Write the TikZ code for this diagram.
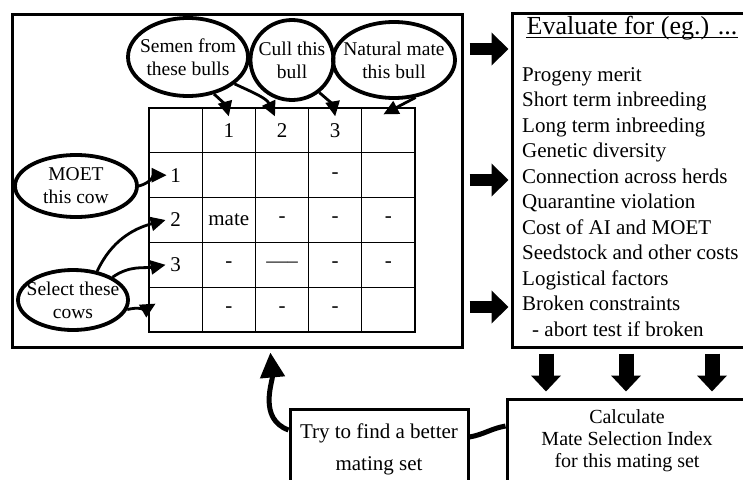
\documentclass[tikz,border=0pt]{standalone}
\usepackage{fontspec}
\setmainfont{Liberation Serif}
\usetikzlibrary{arrows.meta,shapes.geometric,positioning}

\tikzset{
  frame/.style={draw,line width=3pt,inner sep=0pt},
  bubble/.style={draw,ellipse,line width=3.8pt,inner xsep=-15pt,inner ysep=-10pt,
    align=center,font=\fontsize{19.5}{23}\selectfont},
  cell/.style={draw,line width=1.3pt,minimum width=53.2pt,minimum height=44.8pt,
    inner sep=0pt,font=\fontsize{21}{25}\selectfont},
  pointer/.style={line width=2.8pt,-{Triangle[length=15pt,width=14pt]}},
  fatright/.style={line width=12pt,-{Triangle[length=17pt,width=32pt]}},
  fatdown/.style={line width=15pt,-{Triangle[length=16pt,width=29pt]}},
  backarrow/.style={line width=5pt,-{Triangle[length=25pt,width=24pt]}},
  listline/.style={anchor=base west,inner sep=0pt,font=\fontsize{21}{25}\selectfont},
}

\begin{document}
\begin{tikzpicture}[x=1pt,y=1pt]
  \useasboundingbox (0,0) rectangle (743,-479);
  % the mating set
  \node[frame,minimum width=450pt,minimum height=333pt] (board) at (237,-180.5) {};
  \foreach \r/\a/\b/\c/\d/\e in {0/{}/1/2/3/{}, 1/1/{}/{}/-/{}, 2/2/mate/-/-/-,
      3/3/-/-----/-/-, 4/{}/-/-/-/{}} {
    \node[cell] (c\r-1) at (175.6,-130.4-44.8*\r) {\a};
    \node[cell] (c\r-2) at (228.8,-130.4-44.8*\r) {\b};
    \node[cell] (c\r-3) at (282.0,-130.4-44.8*\r) {\c};
    \node[cell] (c\r-4) at (335.2,-130.4-44.8*\r) {\d};
    \node[cell] (c\r-5) at (388.4,-130.4-44.8*\r) {\e};
  }
  % bulls and cows
  \node[bubble,minimum width=120pt,minimum height=78pt] (semen) at (188,-57) {Semen from\\these bulls};
  \node[bubble,minimum width=83pt,minimum height=80pt] (cull) at (292,-60) {Cull this\\bull};
  \node[bubble,minimum width=122pt,minimum height=76pt] (natural) at (394,-60) {Natural mate\\this bull};
  \node[bubble,minimum width=122pt,minimum height=62pt] (moet) at (76,-186) {MOET\\this cow};
  \node[bubble,minimum width=110pt,minimum height=60pt] (select) at (73,-300) {Select these\\cows};
  \draw[pointer] (semen.-55) to[out=-40,in=105] ([yshift=-9pt]c0-2.north);
  \draw[pointer] (semen.-30) to[out=-25,in=115] ([xshift=-7pt,yshift=-9pt]c0-3.north);
  \draw[pointer] (cull.-50) to[out=-40,in=100] ([yshift=-9pt]c0-4.north);
  \draw[pointer] (natural.-60) -- ([xshift=-5pt,yshift=-7pt]c0-5.north);
  \draw[pointer] (moet.east) to[out=15,in=180] ([xshift=-9pt]c1-1.center);
  \draw[pointer] (select.50) to[out=65,in=195] ([xshift=-10pt]c2-1.center);
  \draw[pointer] (select.30) to[out=35,in=190] ([xshift=-10pt]c3-1.center);
  \draw[pointer] (select.-10) to[out=15,in=210] ([xshift=-20pt,yshift=6pt]c4-1.center);
  % what is evaluated
  \node[frame,minimum width=238pt,minimum height=334pt] (evalbox) at (631,-180) {};
  \node[inner sep=0pt,font=\fontsize{26}{30}\selectfont] (evalhead) at (632,-28) {Evaluate for (eg.) ...};
  \draw[line width=1.2pt] ([yshift=-3pt]evalhead.base west) -- ([yshift=-3pt]evalhead.base east);
  \foreach \txt [count=\i] in {Progeny merit, Short term inbreeding, Long term inbreeding,
      Genetic diversity, Connection across herds, Quarantine violation, Cost of AI and MOET,
      Seedstock and other costs, Logistical factors, Broken constraints,
      \hspace*{10pt}- abort test if broken}
    \node[listline] (ev\i) at (522,-55.5-25.5*\i) {\txt};
  \foreach \y in {49,180,307}
    \draw[fatright,shorten <=6pt,shorten >=2pt] (board.east |- 0,-\y) -- (evalbox.west |- 0,-\y);
  % index and search
  \node[frame,minimum width=240pt,minimum height=84pt,align=center,
    font=\fontsize{20}{22}\selectfont] (calc) at (627,-441) {Calculate\\Mate Selection Index\\for this mating set};
  \node[frame,minimum width=178pt,minimum height=80pt,align=center,
    font=\fontsize{21}{32}\selectfont] (try) at (379,-449) {Try to find a better\\mating set};
  \foreach \x in {546,626,712}
    \draw[fatdown,shorten <=5pt,shorten >=6pt] (evalbox.south -| \x,0) -- (calc.north -| \x,0);
  \draw[line width=5pt] (calc.west |- 0,-426) to[out=190,in=10] (try.east |- 0,-437);
  \draw[backarrow,shorten >=4pt] (try.west |- 0,-430) to[out=160,in=-85] (board.south -| 270,0);
\end{tikzpicture}
\end{document}
